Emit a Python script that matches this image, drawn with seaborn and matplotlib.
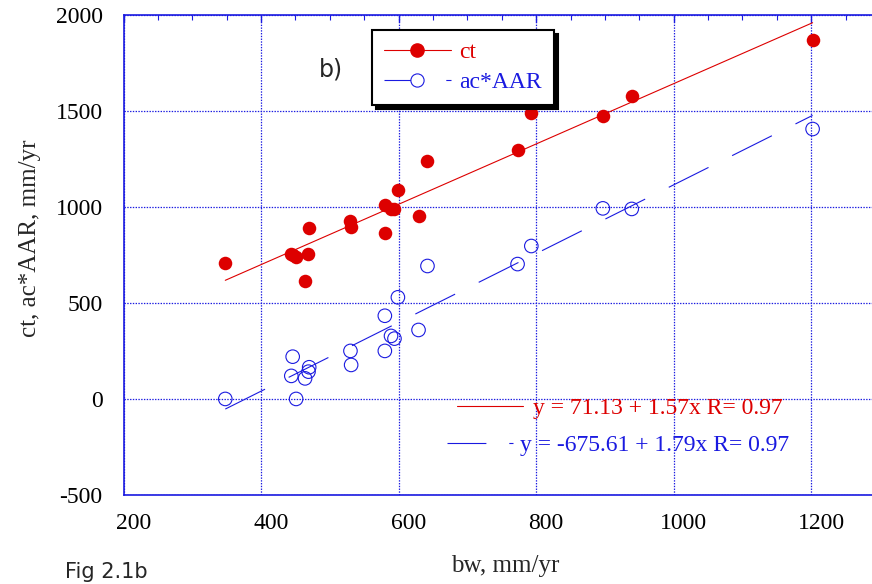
import numpy as np
import pandas as pd
import matplotlib
matplotlib.use("Agg")
import matplotlib.pyplot as plt
import matplotlib.transforms as mtransforms
from matplotlib.lines import Line2D
from matplotlib.ticker import MultipleLocator
import seaborn as sns

# ---- data ----
bw = [348, 444, 446, 451, 464, 469, 470, 530, 531, 580, 580, 589, 594, 599,
      629, 642, 773, 793, 897, 939, 1202]
ct = [708, 752, 748, 740, 615, 755, 891, 925, 897, 865, 1010, 990, 987, 1085,
      950, 1240, 1296, 1488, 1473, 1577, 1868]
ac_aar = [0, 120, 220, 0, 107, 142, 165, 250, 177, 250, 433, 328, 314, 529,
          359, 692, 702, 796, 992, 989, 1405]
fit_ct = (71.13, 1.57)
fit_ac = (-675.61, 1.79)
xticks = [200, 400, 600, 800, 1000, 1200]
yticks = [-500, 0, 500, 1000, 1500, 2000]

sns.set_style("white")
plt.rcParams["font.family"] = ["Liberation Serif", "DejaVu Serif"]
plt.rcParams["lines.scale_dashes"] = False
plt.rcParams["axes.unicode_minus"] = False

RED = "#dd0000"
BLUE = "#1a1ae0"

fig = plt.figure(figsize=(8.72, 5.84), dpi=100)
W, H = 872, 584
ax = fig.add_axes([123.5 / W, 1 - 495 / H, (880 - 123.5) / W, (495 - 14.7) / H])

df = pd.DataFrame({"bw": bw, "ct": ct, "ac": ac_aar})
xr = np.array([min(bw), max(bw)], dtype=float)
fit_df = pd.DataFrame({"x": xr,
                       "ct": fit_ct[0] + fit_ct[1] * xr,
                       "ac": fit_ac[0] + fit_ac[1] * xr})

DASH = (0, (32, 19))
DASH_H = (4, (32, 16.5))
sns.lineplot(data=fit_df, x="x", y="ct", ax=ax, color=RED, lw=0.8,
             estimator=None, sort=False, zorder=2)
sns.lineplot(data=fit_df, x="x", y="ac", ax=ax, color=BLUE, lw=0.8,
             estimator=None, sort=False, linestyle=DASH, zorder=2)
sns.scatterplot(data=df, x="bw", y="ct", ax=ax, color=RED, s=95,
                edgecolor=RED, linewidth=0, zorder=3)
sns.scatterplot(data=df, x="bw", y="ac", ax=ax, facecolor="none", s=95,
                edgecolor=BLUE, linewidth=0.8, zorder=3)

ax.set_xlim(200, 1300)
ax.set_ylim(-500, 2000)
ax.set_xticks(xticks)
ax.set_yticks(yticks)
ax.xaxis.set_minor_locator(MultipleLocator(50))
ax.yaxis.set_minor_locator(MultipleLocator(100))
ax.tick_params(which="both", direction="in", top=True, right=True,
               color=BLUE, labelsize=17, labelcolor="black")
ax.tick_params(which="major", length=5, width=1)
ax.tick_params(which="minor", length=3.5, width=0.8)
ax.tick_params(axis="x", which="major", pad=13)
ax.tick_params(axis="y", which="major", pad=15)
for sp in ax.spines.values():
    sp.set_color(BLUE)
    sp.set_linewidth(1.2)
ax.grid(True, which="major", color=BLUE, linestyle=(0, (1, 1)), linewidth=0.9)
ax.set_axisbelow(True)

offset = mtransforms.ScaledTranslation(10 / 100, 0, fig.dpi_scale_trans)
for lab in ax.get_xticklabels():
    lab.set_transform(lab.get_transform() + offset)

ax.set_xlabel("")
ax.set_ylabel("")
fig.text(505 / W, 1 - 566 / H, "bw, mm/yr", ha="center", va="center", fontsize=18)
fig.text(30 / W, 1 - 238 / H, "ct, ac*AAR, mm/yr", ha="center", va="center",
         rotation=90, fontsize=18)

fig.text(331 / W, 1 - 70 / H, "b)", ha="center", va="center", fontsize=17,
         family=["DejaVu Sans"])
fig.text(65 / W, 1 - 578 / H, "Fig 2.1b", ha="left", va="baseline", fontsize=15,
         family=["DejaVu Sans"])

# main legend
h_ct = Line2D([], [], color=RED, lw=0.8, marker="o", markersize=9.5,
              markerfacecolor=RED, markeredgecolor=RED)
h_ac = Line2D([], [], color=BLUE, lw=0.8, linestyle=DASH_H, marker="o",
              markersize=9.5, markerfacecolor="white", markeredgecolor=BLUE,
              markeredgewidth=0.8)
leg = ax.legend([h_ct, h_ac], ["ct", "ac*AAR"], loc="upper left",
                bbox_to_anchor=(372 / W, 1 - 30 / H), bbox_transform=fig.transFigure,
                borderaxespad=0, fontsize=17, frameon=True, fancybox=False,
                edgecolor="black", facecolor="white", framealpha=1,
                shadow={"color": "black", "alpha": 1, "ox": 3, "oy": -3},
                handlelength=2.85, handletextpad=0.35, labelspacing=0.35,
                borderpad=0.5)
leg.get_frame().set_linewidth(1.5)
for t, c in zip(leg.get_texts(), [RED, BLUE]):
    t.set_color(c)
ax.add_artist(leg)

# fit-equation legends
h1 = Line2D([], [], color=RED, lw=0.8)
leg1 = ax.legend([h1], ["y = 71.13 + 1.57x R= 0.97"], loc="center left",
                 bbox_to_anchor=(457 / W, 1 - 408 / H), bbox_transform=fig.transFigure,
                 borderaxespad=0, borderpad=0, fontsize=17, frameon=False,
                 handlelength=2.8, handletextpad=0.4)
leg1.get_texts()[0].set_color(RED)
ax.add_artist(leg1)
h2 = Line2D([], [], color=BLUE, lw=0.8, linestyle=DASH_H)
leg2 = ax.legend([h2], ["y = -675.61 + 1.79x R= 0.97"], loc="center left",
                 bbox_to_anchor=(447 / W, 1 - 445 / H), bbox_transform=fig.transFigure,
                 borderaxespad=0, borderpad=0, fontsize=17, frameon=False,
                 handlelength=2.8, handletextpad=0.3)
leg2.get_texts()[0].set_color(BLUE)

fig.savefig("out.png", dpi=100)
